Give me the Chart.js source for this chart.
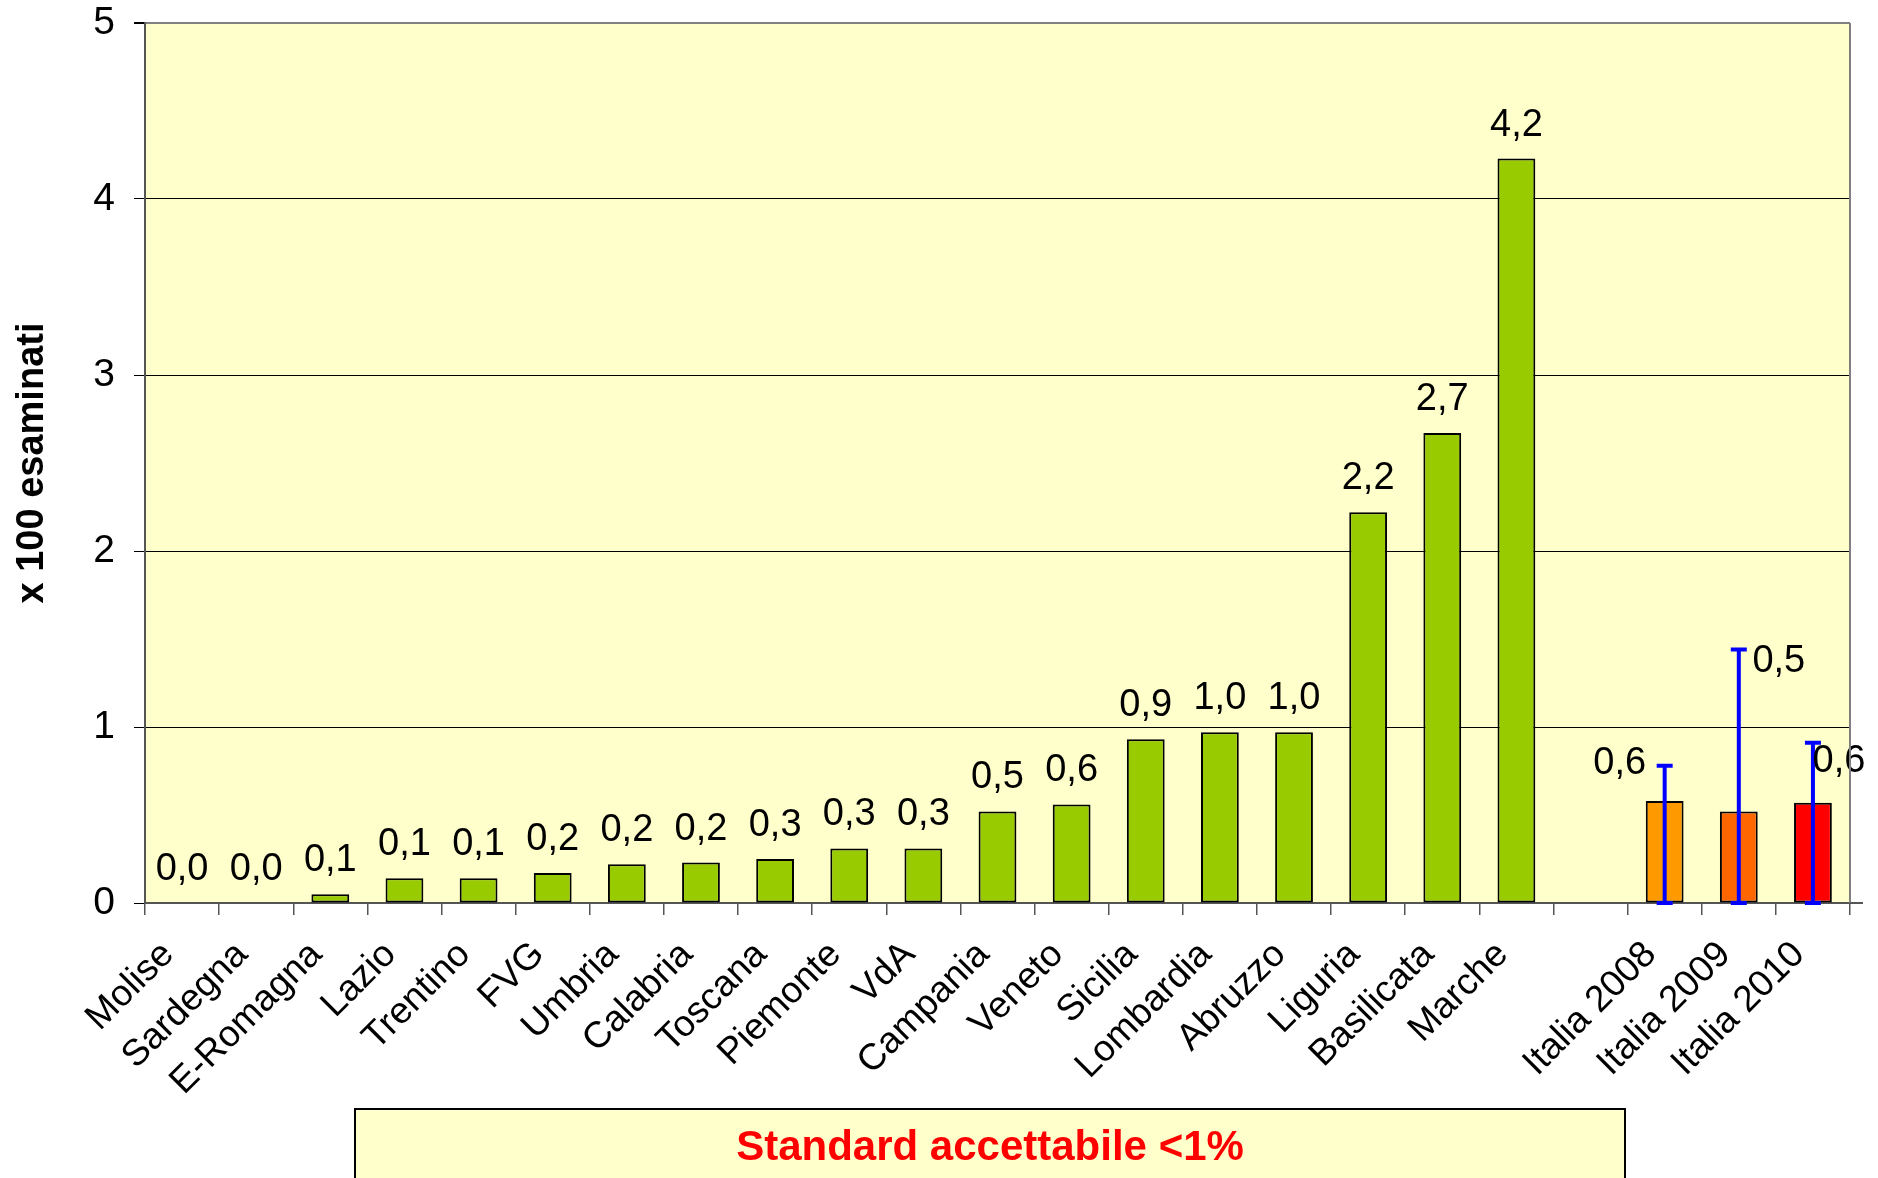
<!DOCTYPE html>
<html>
<head>
<meta charset="utf-8">
<script src="https://cdn.jsdelivr.net/npm/chart.js@4"></script>
<style>
  body { margin: 0; background: #fff; }
  #wrap { width: 1878px; height: 1178px; }
</style>
</head>
<body>
<div id="wrap"><canvas id="myChart" width="1878" height="1178"></canvas></div>
<script>
// regions, sorted as in the picture
const regions = ['Molise', 'Sardegna', 'E-Romagna', 'Lazio', 'Trentino', 'FVG', 'Umbria', 'Calabria',
    'Toscana', 'Piemonte', 'VdA', 'Campania', 'Veneto', 'Sicilia', 'Lombardia', 'Abruzzo',
    'Liguria', 'Basilicata', 'Marche'];
const regionValues = [0, 0, 0.05, 0.14, 0.14, 0.17, 0.22, 0.23, 0.25, 0.31, 0.31, 0.52, 0.56,
    0.93, 0.97, 0.97, 2.22, 2.67, 4.23];

// national totals with their error range
const italia = ['Italia 2008', 'Italia 2009', 'Italia 2010'];
const italiaValues = [0.58, 0.52, 0.57];
const italiaErrLow = [0, 0, 0];
const italiaErrHigh = [0.78, 1.44, 0.91];

const yTicks = [0, 1, 2, 3, 4, 5];

const labels = regions.concat([''], italia);
const values = regionValues.concat([null], italiaValues);
const colors = regions.map(() => '#99CC00').concat(['#99CC00', '#FF9900', '#FF6600', '#FF0000']);

const FONT = "'Liberation Sans', Arial, sans-serif";

const ctx = document.getElementById('myChart');

function fmt(v) {
    return (Math.round(v * 10) / 10).toFixed(1).replace('.', ',');
}

// label shifts for the Italia bars (as placed in the original)
const nudge = {
    'Italia 2008': [-45, -4],
    'Italia 2009': [40, -116],
    'Italia 2010': [26, -8]
};

const plotBg = {
    id: 'plotBg',
    beforeDraw(chart) {
        const a = chart.chartArea, c = chart.ctx;
        c.save();
        c.fillStyle = '#FFFFCC';
        c.fillRect(a.left, a.top, a.right - a.left, a.bottom - a.top);
        c.restore();
    },
    afterDraw(chart) {
        const a = chart.chartArea, c = chart.ctx;
        c.save();
        c.strokeStyle = '#808080';
        c.lineWidth = 2;
        c.beginPath();
        c.moveTo(a.right, a.top);
        c.lineTo(a.right, a.bottom);
        c.stroke();
        // x axis runs a bit past the plot
        c.strokeStyle = '#555';
        c.beginPath();
        c.moveTo(a.right, a.bottom);
        c.lineTo(a.right + 13, a.bottom);
        c.stroke();

        // note box
        c.fillStyle = '#FFFFCC';
        c.strokeStyle = '#000';
        c.lineWidth = 2;
        c.fillRect(355, 1109, 1270, 90);
        c.strokeRect(355, 1109, 1270, 90);
        c.fillStyle = '#FF0000';
        c.font = 'bold 42px ' + FONT;
        c.textAlign = 'center';
        c.textBaseline = 'alphabetic';
        c.fillText('Standard accettabile <1%', 990, 1160);
        c.restore();
    }
};

const errBars = {
    id: 'errBars',
    afterDatasetsDraw(chart) {
        const meta = chart.getDatasetMeta(0);
        const y = chart.scales.y;
        const c = chart.ctx;
        c.save();
        c.strokeStyle = '#0000FF';
        c.lineWidth = 4;
        italia.forEach((name, k) => {
            const bar = meta.data[labels.indexOf(name)];
            const top = y.getPixelForValue(italiaErrHigh[k]);
            const bot = y.getPixelForValue(italiaErrLow[k]);
            c.beginPath();
            c.moveTo(bar.x, top);
            c.lineTo(bar.x, bot);
            c.moveTo(bar.x - 8, top);
            c.lineTo(bar.x + 8, top);
            c.moveTo(bar.x - 8, bot);
            c.lineTo(bar.x + 8, bot);
            c.stroke();
        });
        c.restore();
    }
};

const valueLabels = {
    id: 'valueLabels',
    afterDatasetsDraw(chart) {
        const meta = chart.getDatasetMeta(0);
        const c = chart.ctx;
        c.save();
        c.fillStyle = '#000';
        c.font = '38px ' + FONT;
        c.textAlign = 'center';
        c.textBaseline = 'alphabetic';
        meta.data.forEach((bar, i) => {
            const v = values[i];
            if (v === null) return;
            const n = nudge[labels[i]] || [0, 0];
            c.fillText(fmt(v), bar.x + n[0], bar.y - 23 + n[1]);
        });
        c.restore();
    }
};

new Chart(ctx, {
    type: 'bar',
    data: {
        labels: labels,
        datasets: [{
            data: values,
            backgroundColor: colors,
            borderColor: '#000',
            borderWidth: 2,
            borderSkipped: false,
            barPercentage: 0.51,
            categoryPercentage: 1
        }]
    },
    options: {
        responsive: false,
        animation: false,
        layout: { padding: { top: 23, right: 28, left: 0, bottom: 0 } },
        plugins: {
            legend: { display: false },
            tooltip: { enabled: false }
        },
        scales: {
            x: {
                afterFit: (s) => { s.height = 275; s.paddingLeft = 0; s.paddingRight = 0; },
                grid: {
                    offset: true,
                    drawOnChartArea: false,
                    tickLength: 12,
                    color: '#555',
                    lineWidth: 1.5
                },
                border: { color: '#555', width: 2 },
                ticks: {
                    autoSkip: false,
                    maxRotation: 45,
                    minRotation: 45,
                    padding: 18,
                    labelOffset: -14,
                    color: '#000',
                    font: { family: FONT, size: 37 }
                }
            },
            y: {
                min: 0,
                max: 5,
                afterFit: (s) => { s.width = 145; s.paddingTop = 0; s.paddingBottom = 0; },
                afterBuildTicks: (s) => { s.ticks = yTicks.map(v => ({ value: v })); },
                grid: {
                    color: (c) => c.tick.value === 5 ? '#808080' : (c.tick.value === 0 ? '#555' : '#000'),
                    tickColor: '#000',
                    tickLength: 11,
                    lineWidth: (c) => c.tick.value === 5 ? 2 : 1
                },
                border: { color: '#555', width: 2 },
                ticks: {
                    padding: 19,
                    color: '#000',
                    font: { family: FONT, size: 39 }
                },
                title: {
                    display: true,
                    text: 'x 100 esaminati',
                    color: '#000',
                    font: { family: FONT, size: 38, weight: 'bold' },
                    padding: { top: 10, bottom: 0 }
                }
            }
        }
    },
    plugins: [plotBg, errBars, valueLabels]
});
</script>
</body>
</html>
